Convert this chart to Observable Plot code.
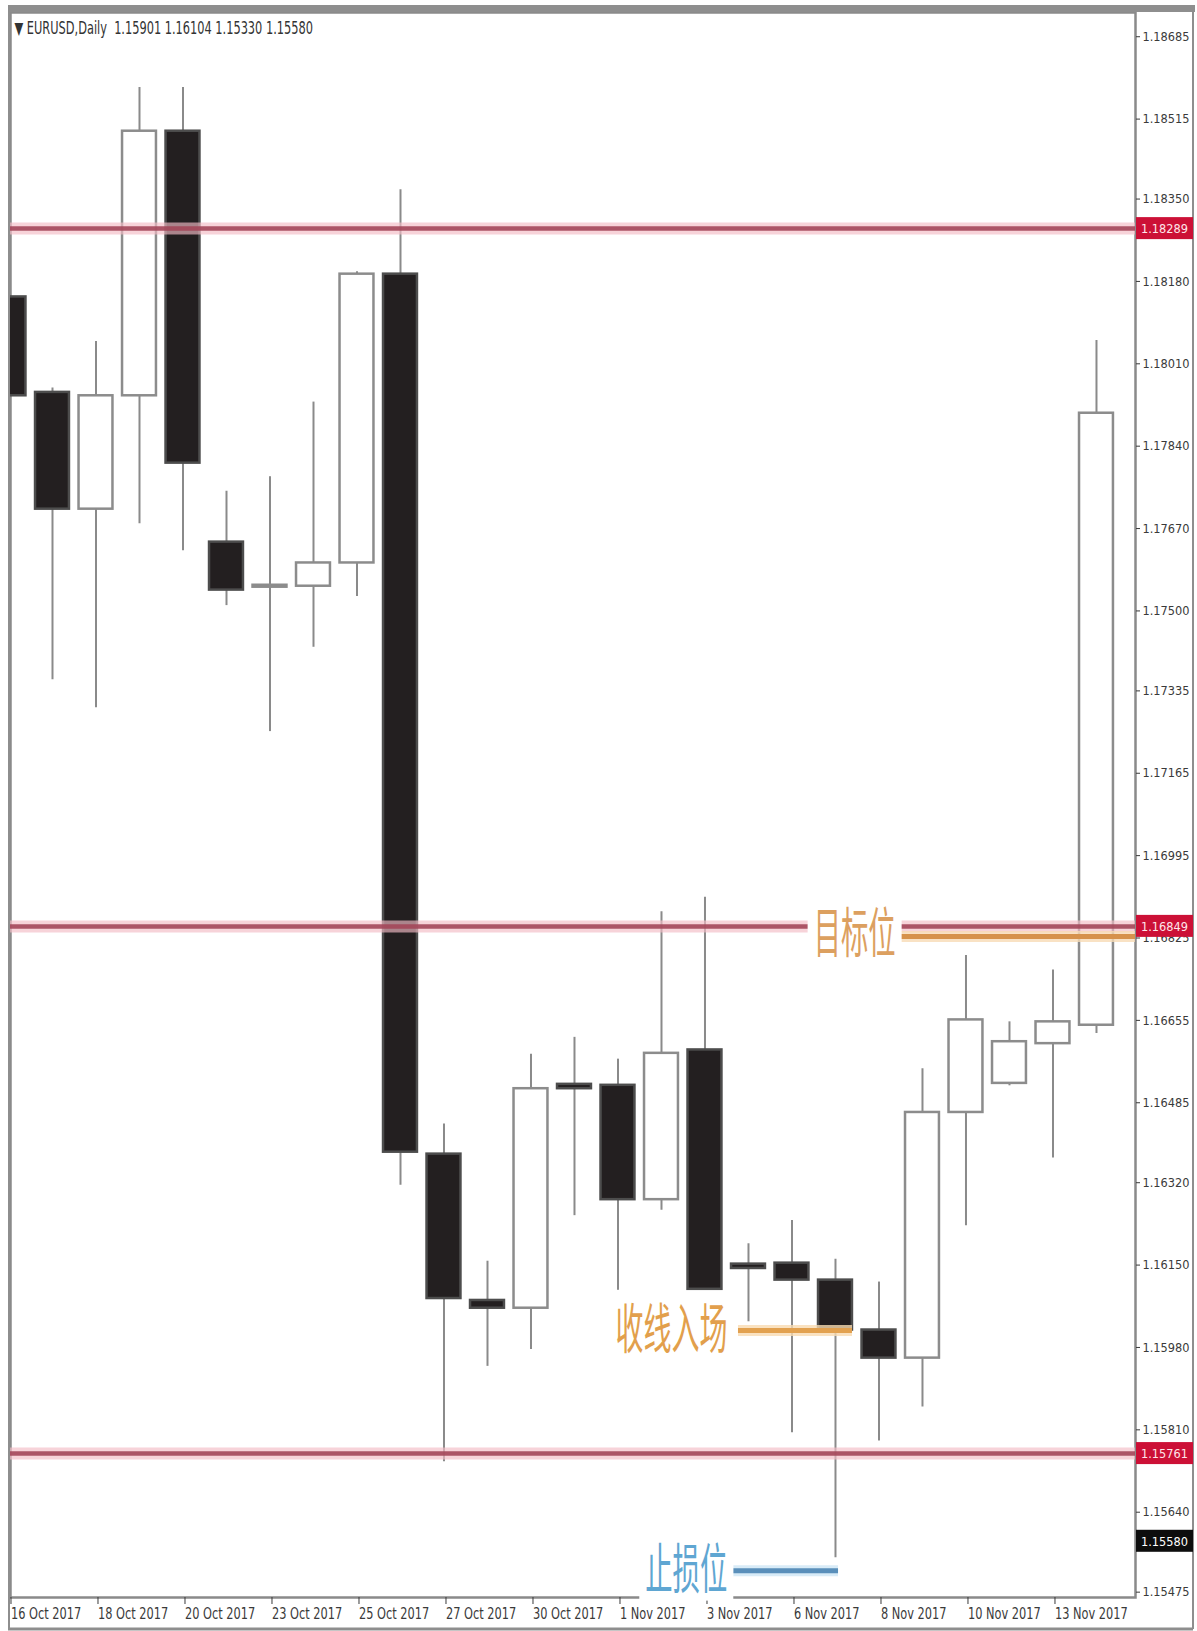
<!DOCTYPE html>
<html><head><meta charset="utf-8">
<script src="https://cdn.jsdelivr.net/npm/d3@7"></script>
<script src="https://cdn.jsdelivr.net/npm/@observablehq/plot@0.6"></script>
<style>
html,body{margin:0;padding:0;background:#fff;}
</style></head><body><div id="chart"></div>
<script>
// ---- data ----
const dates = ["16 Oct 2017","17 Oct 2017","18 Oct 2017","19 Oct 2017","20 Oct 2017","22 Oct 2017","23 Oct 2017","24 Oct 2017","25 Oct 2017","26 Oct 2017","27 Oct 2017","29 Oct 2017","30 Oct 2017","31 Oct 2017","1 Nov 2017","2 Nov 2017","3 Nov 2017","5 Nov 2017","6 Nov 2017","7 Nov 2017","8 Nov 2017","9 Nov 2017","10 Nov 2017","12 Nov 2017","13 Nov 2017","14 Nov 2017"];
const opens  = [1.18148,1.17951,1.17710,1.17944,1.18490,1.17642,1.17549,1.17551,1.17599,1.18195,1.16379,1.16077,1.16061,1.16523,1.16521,1.16285,1.16594,1.16152,1.16154,1.16119,1.16016,1.15958,1.16465,1.16525,1.16607,1.16645];
const highs  = [1.18230,1.17960,1.18056,1.18580,1.18580,1.17747,1.17777,1.17931,1.18200,1.18369,1.16441,1.16158,1.16585,1.16620,1.16575,1.16879,1.16909,1.16194,1.16242,1.16162,1.16115,1.16555,1.16789,1.16652,1.16759,1.18058];
const lows   = [1.17860,1.17358,1.17300,1.17680,1.17624,1.17511,1.17251,1.17425,1.17530,1.16315,1.15744,1.15941,1.15976,1.16252,1.16098,1.16263,1.16098,1.16033,1.15804,1.15546,1.15787,1.15857,1.16231,1.16520,1.16371,1.16628];
const closes = [1.17944,1.17710,1.17944,1.18490,1.17805,1.17543,1.17553,1.17599,1.18195,1.16383,1.16081,1.16061,1.16514,1.16514,1.16285,1.16587,1.16100,1.16143,1.16119,1.16016,1.15958,1.16465,1.16656,1.16611,1.16652,1.17908];
const tickDates = ["16 Oct 2017","18 Oct 2017","20 Oct 2017","23 Oct 2017","25 Oct 2017","27 Oct 2017","30 Oct 2017","1 Nov 2017","3 Nov 2017","6 Nov 2017","8 Nov 2017","10 Nov 2017","13 Nov 2017"];
const priceTicks = [1.18685,1.18515,1.18350,1.18180,1.18010,1.17840,1.17670,1.17500,1.17335,1.17165,1.16995,1.16825,1.16655,1.16485,1.16320,1.16150,1.15980,1.15810,1.15640,1.15475];
const levelPrices = [1.18289, 1.16849, 1.15761];
const currentPrice = 1.15580;
const titleText = "▼ EURUSD,Daily  1.15901 1.16104 1.15330 1.15580";
const noteTexts  = ["目标位", "收线入场", "止损位"];
const noteX      = [19.44, 15.23, 15.57];
const notePrice  = [1.16830, 1.16013, 1.15518];
const noteColor  = ["#dca060", "#e29f4c", "#5fa6d2"];
const noteWidth  = [82, 112, 82];
const lineFrom   = [20.5, 16.77, 16.66];
const lineTo     = [25.95, 19.39, 19.07];
const linePrice  = [1.16828, 1.16015, 1.15519];
const lineCore   = ["#d6924c", "#e2a150", "#5a8fba"];
const lineHalo   = ["#f8dcb6", "#f9dcb2", "#cfe7f6"];

// ---- tables ----
const candles = dates.map((date, i) => ({i, date, open: opens[i], high: highs[i], low: lows[i], close: closes[i]}));
const notes = noteTexts.map((text, i) => ({text, x: noteX[i], price: notePrice[i], color: noteColor[i], len: noteWidth[i]}));
const noteLines = lineFrom.map((x1, i) => ({x1, x2: lineTo[i], price: linePrice[i], core: lineCore[i], halo: lineHalo[i]}));
const tickIdx = tickDates.map(d => dates.indexOf(d));

const NARROW = "'Liberation Sans Narrow','DejaVu Sans Condensed','Arial Narrow',sans-serif";
const W = 1197, H = 1631;

function priceBoxes(index, scales, values, dim) {
  const g = d3.create("svg:g").attr("text-anchor", "start");
  const x0 = dim.width - dim.marginRight;
  const items = levelPrices.map(v => ({v, fill: "#cc1036", text: "#ffe6ea"})).concat([{v: currentPrice, fill: "#0d0d0d", text: "#ffffff"}]);
  for (const it of items) {
    const y = scales.y(it.v);
    g.append("rect").attr("x", x0 + 1).attr("y", y - 11).attr("width", 57).attr("height", 22).attr("fill", it.fill);
    g.append("text").attr("x", x0 + 6).attr("y", y + 5).attr("fill", it.text).attr("text-anchor", "start")
      .attr("font-size", 13).attr("font-family", NARROW).text(it.v.toFixed(5));
  }
  return g.node();
}

function chrome(index, scales, values, dim) {
  const g = d3.create("svg:g");
  g.append("rect").attr("x", dim.marginLeft - 2).attr("y", dim.marginTop - 7)
    .attr("width", dim.width - dim.marginLeft).attr("height", 7).attr("fill", "#8e8e8e");
  g.append("line").attr("x1", dim.width - 4).attr("x2", dim.width - 4).attr("y1", dim.marginTop - 7).attr("y2", dim.height - 2)
    .attr("stroke", "#8e8e8e").attr("stroke-width", 2);
  g.append("line").attr("x1", dim.marginLeft - 2).attr("x2", dim.width - 4).attr("y1", dim.height - 2).attr("y2", dim.height - 2)
    .attr("stroke", "#8e8e8e").attr("stroke-width", 3);
  g.append("line").attr("x1", dim.marginLeft - 1).attr("x2", dim.marginLeft - 1).attr("y1", dim.marginTop).attr("y2", dim.height - 2)
    .attr("stroke", "#8e8e8e").attr("stroke-width", 2);
  return g.node();
}

const plot = Plot.plot({
  width: W, height: H,
  marginLeft: 10, marginRight: 62, marginTop: 12, marginBottom: 34,
  x: {type: "linear", domain: [0.0345, 25.897], axis: null},
  y: {domain: [1.15464, 1.18735], axis: null},
  style: {fontFamily: NARROW, background: "#fff", color: "#333"},
  marks: [
    Plot.frame({stroke: "#8a8a8a", strokeWidth: 2.5}),
    Plot.axisY({anchor: "right", ticks: priceTicks, tickFormat: d => d.toFixed(5), tickSize: 4, tickPadding: 3, fontSize: 13, color: "#3a3a3a"}),
    Plot.axisX({anchor: "bottom", ticks: tickIdx, tickFormat: i => dates[i], textAnchor: "start", dx: 2, tickSize: 7, tickPadding: 4, fontSize: 15, color: "#3a3a3a"}),
    chrome,
    Plot.ruleX(candles, {x: "i", y1: "low", y2: "high", stroke: "#8a8a8a", strokeWidth: 2, clip: true}),
    Plot.rect(candles, {
      x1: d => d.i - 0.39, x2: d => d.i + 0.39, y1: "open", y2: "close",
      fill: d => d.close < d.open ? "#231f20" : "#ffffff",
      stroke: d => d.close < d.open ? "#4d4d4d" : "#8c8c8c",
      strokeWidth: 2.5, clip: true
    }),
    Plot.ruleY(levelPrices, {stroke: "#f4bcc6", strokeWidth: 12, opacity: 0.65}),
    Plot.ruleY(levelPrices, {stroke: "#a4475a", strokeWidth: 4.5, opacity: 0.9}),
    Plot.ruleY(noteLines, {y: "price", x1: "x1", x2: "x2", stroke: "halo", strokeWidth: 11, opacity: 0.8, clip: true}),
    Plot.ruleY(noteLines, {y: "price", x1: "x1", x2: "x2", stroke: "core", strokeWidth: 5, clip: true}),
    priceBoxes,
    Plot.text([titleText], {frameAnchor: "top-left", dx: 4, dy: 9, lineAnchor: "top", textAnchor: "start", fontSize: 17, fill: "#333"}),
    Plot.text(notes, {x: "x", y: "price", text: "text", fill: "color", fontSize: 54, fontFamily: "'Noto Sans CJK SC', sans-serif", fontWeight: 400})
  ]
});

document.getElementById("chart").append(plot);

// the reference uses a condensed face: measure and compress the Latin texts
const probe = d3.select(plot).append("text").attr("font-size", 15).attr("font-family", NARROW).text("1.17500");
const probeW15 = probe.node().getComputedTextLength();
probe.remove();

d3.select(plot).selectAll("text").each(function () {
  const n = notes.find(n => n.text === this.textContent);
  if (!n) {
    if (this.textContent && this.children.length === 0) {
      const s = parseFloat(getComputedStyle(this).fontSize) || 15;
      const factor = Math.min(1, 47 / (probeW15 * s / 15));
      const w = this.getComputedTextLength();
      this.setAttribute("textLength", w * factor);
      this.setAttribute("lengthAdjust", "spacingAndGlyphs");
    }
    return;
  }
  this.setAttribute("textLength", n.len);
  this.setAttribute("lengthAdjust", "spacingAndGlyphs");
  const b = this.getBBox();
  const r = document.createElementNS("http://www.w3.org/2000/svg", "rect");
  r.setAttribute("x", b.x - 6); r.setAttribute("y", b.y + 6);
  r.setAttribute("width", b.width + 12); r.setAttribute("height", b.height - 10);
  r.setAttribute("fill", "#fff");
  const t = this.getAttribute("transform");
  if (t) r.setAttribute("transform", t);
  this.parentNode.insertBefore(r, this);
});
</script>
</body></html>
